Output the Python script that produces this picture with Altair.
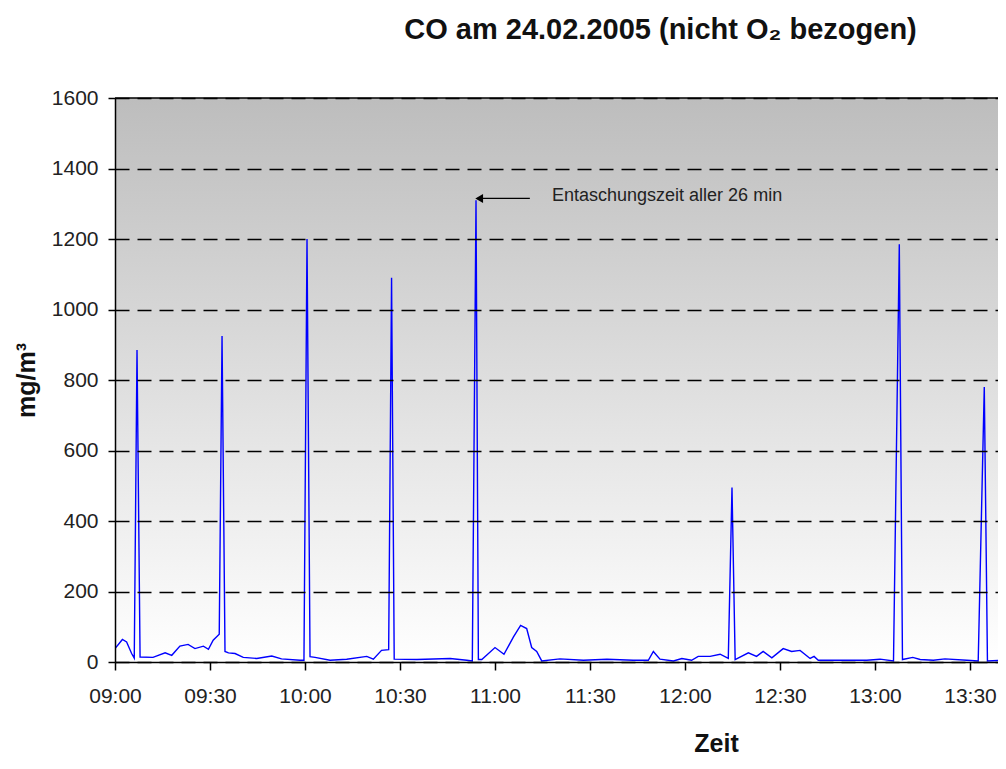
import altair as alt
import pandas as pd

DATE = "2005-02-24"

# CO concentration (mg/m³) over time
times = [
    "09:00:00", "09:02:20", "09:03:40", "09:05:15", "09:06:05", "09:06:57", "09:07:55",
    "09:12:00", "09:15:50", "09:17:55", "09:20:30", "09:23:05", "09:25:15", "09:27:55",
    "09:29:30", "09:31:00", "09:32:55", "09:33:48", "09:34:44", "09:35:50", "09:37:55",
    "09:40:30", "09:44:45", "09:49:30", "09:52:35", "09:58:25", "09:59:40", "10:00:38",
    "10:01:35", "10:03:10", "10:07:55", "10:13:10", "10:19:30", "10:21:35", "10:24:10",
    "10:26:25", "10:27:20", "10:28:10", "10:35:20", "10:45:50", "10:51:05", "10:52:50",
    "10:54:00", "10:54:45", "10:55:50", "11:00:00", "11:02:50", "11:05:50", "11:08:05",
    "11:10:00", "11:11:35", "11:13:10", "11:14:45", "11:20:30", "11:27:55", "11:35:20",
    "11:43:40", "11:48:25", "11:50:00", "11:52:05", "11:56:20", "11:59:00", "12:02:05",
    "12:04:10", "12:07:55", "12:11:05", "12:13:40", "12:14:50", "12:15:50", "12:20:00",
    "12:22:35", "12:24:40", "12:27:25", "12:31:00", "12:33:40", "12:36:20", "12:39:30",
    "12:40:45", "12:42:05", "12:46:50", "12:57:25", "13:01:35", "13:05:50", "13:07:40",
    "13:08:40", "13:11:55", "13:14:15", "13:18:25", "13:22:05", "13:29:00", "13:32:35",
    "13:34:30", "13:35:30", "13:41:20",
]
co_values = [
    38, 64, 57, 24, 11, 885, 14,
    13, 26, 19, 45, 50, 38, 45,
    36, 62, 79, 925, 30, 26, 24,
    13, 10, 17, 9, 5, 5, 1200,
    15, 13, 5, 8, 16, 8, 33,
    35, 1090, 8, 7, 10, 5, 3,
    1310, 7, 7, 41, 22, 71, 104,
    95, 41, 30, 3, 9, 5, 8,
    5, 5, 30, 8, 3, 10, 5,
    16, 16, 22, 10, 495, 7, 26,
    16, 30, 12, 38, 30, 33, 10,
    16, 5, 5, 5, 8, 3, 1185,
    7, 13, 7, 5, 9, 5, 3,
    780, 3, 5,
]

y_ticks = [0, 200, 400, 600, 800, 1000, 1200, 1400, 1600]
x_tick_labels = ["09:00", "09:30", "10:00", "10:30", "11:00", "11:30",
                 "12:00", "12:30", "13:00", "13:30"]
x_domain = ["09:00:00", "13:38:50"]

annotation_text = ["Entaschungszeit aller 26 min"]
annotation_time = ["11:18:00"]
annotation_level = [1308]
arrow_from = ["11:11:00"]
arrow_to = ["10:55:00"]
arrow_level = [1315]

FONT = "Liberation Sans"


def dt(hms):
    parts = [int(p) for p in hms.split(":")]
    while len(parts) < 3:
        parts.append(0)
    return alt.DateTime(year=2005, month=2, date=24,
                        hours=parts[0], minutes=parts[1], seconds=parts[2])


x_scale = alt.Scale(domain=[dt(x_domain[0]), dt(x_domain[1])])
y_scale = alt.Scale(domain=[0, 1600])

x_axis = alt.Axis(
    values=[dt(s) for s in x_tick_labels], format="%H:%M", title="Zeit",
    grid=False, domainColor="black", domainWidth=1.5, tickColor="black",
    tickSize=8, tickWidth=1.5, labelFont=FONT, labelFontSize=21, labelColor="#222",
    labelPadding=15, labelFlush=False, labelOverlap=False,
    titleFont=FONT, titleFontSize=25, titleFontWeight="bold", titleColor="#111",
    titleX=601, titleY=69, zindex=1,
)
y_axis = alt.Axis(
    values=y_ticks, format="d", title="mg/m³", grid=True, gridColor="black",
    gridDash=[14, 8], gridWidth=1.5, domainColor="black", domainWidth=1.5,
    tickColor="black", tickSize=7, tickWidth=1.5, labelFont=FONT, labelFontSize=21,
    labelColor="#222", labelPadding=10, titleFont=FONT, titleFontSize=25,
    titleFontWeight="bold", titleColor="#111", titlePadding=12, zindex=1,
)


def X(field):
    return alt.X(field, type="temporal", scale=x_scale, axis=x_axis)


def Y(field):
    return alt.Y(field, type="quantitative", scale=y_scale, axis=y_axis)


df = pd.DataFrame({"t": [f"{DATE}T{t}" for t in times], "co": co_values})

background = alt.Chart(pd.DataFrame({"a": [0]})).mark_rect(
    color=alt.LinearGradient(
        gradient="linear", x1=0, x2=0, y1=0, y2=1,
        stops=[alt.GradientStop(offset=0, color="#bdbdbd"),
               alt.GradientStop(offset=1, color="#ffffff")],
    )
).encode(x=alt.value(0), x2=alt.value("width"), y=alt.value(0), y2=alt.value("height"))

top_line = alt.Chart(pd.DataFrame({"co": [1600]})).mark_rule(
    color="black", strokeWidth=1.5
).encode(y=Y("co"))

line = alt.Chart(df).mark_line(color="#0000ff", strokeWidth=1.4, clip=True).encode(
    x=X("t"), y=Y("co")
)

arrow_df = pd.DataFrame({
    "t": [f"{DATE}T{t}" for t in arrow_to],
    "t2": [f"{DATE}T{t}" for t in arrow_from],
    "co": arrow_level,
})
arrow_line = alt.Chart(arrow_df).mark_rule(color="black", strokeWidth=1.3).encode(
    x=X("t"), x2="t2:T", y=Y("co")
)
arrow_head = alt.Chart(arrow_df).mark_point(
    shape="triangle-left", filled=True, color="black", size=80, opacity=1
).encode(x=X("t"), y=Y("co"))

label_df = pd.DataFrame({
    "t": [f"{DATE}T{t}" for t in annotation_time],
    "co": annotation_level,
    "label": annotation_text,
})
label = alt.Chart(label_df).mark_text(
    align="left", baseline="alphabetic", font=FONT, fontSize=18, color="#222"
).encode(x=X("t"), y=Y("co"), text="label:N")

chart = alt.layer(background, top_line, line, arrow_line, arrow_head, label).properties(
    width=883,
    height=564,
    autosize=alt.AutoSizeParams(type="none"),
    padding={"left": 107, "top": 90, "right": 0, "bottom": 94},
    title=alt.TitleParams(
        text="CO am 24.02.2005 (nicht O₂ bezogen)", font=FONT, fontSize=29,
        fontWeight="bold", color="#111", anchor="middle", frame="group",
        dx=104, offset=19, baseline="alphabetic",
    ),
).configure_view(stroke=None).configure(background="white")

chart.save("out.html", embed_options={"renderer": "svg", "actions": False})
